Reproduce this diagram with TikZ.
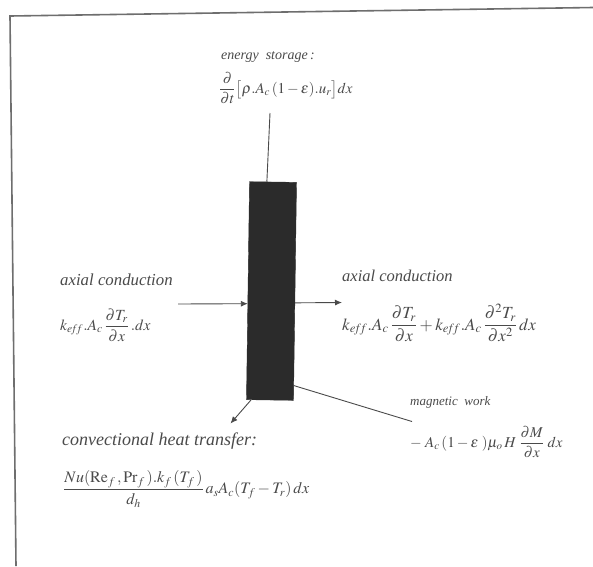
\documentclass[tikz,border=0pt]{standalone}
\usepackage{mathptmx}
\usepackage{fontspec}
\setmainfont{Liberation Serif}
\usetikzlibrary{arrows.meta,calc}
\definecolor{ink}{HTML}{4A4A4A}
\definecolor{blockfill}{HTML}{2B2B2B}
\begin{document}
\begin{tikzpicture}[x=1pt,y=-1pt,
  lbl/.style={anchor=west,inner sep=0pt,text=ink,font=\itshape},
  frm/.style={draw=ink!80,line width=1.6pt},
  conn/.style={draw=ink,line width=0.9pt},
  arr/.style={conn,-{Latex[length=7pt,width=6pt]}}]
\useasboundingbox[fill=white] (0,0) rectangle (593,566);
% frame
\draw[frm] (593,7.5) -- (10,16) -- (16,566);
% block
\node (blk) [draw=blockfill,fill=blockfill,minimum width=47pt,minimum height=218pt,inner sep=0pt,rotate=-0.8] at (271.5,291) {};
% labels
\node (esl) [lbl,font=\fontsize{14}{16}\itshape\selectfont] at (221,57) {energy\ \ storage\,:};
\node (esf) [lbl,font=\fontsize{15}{17}\selectfont] at (219,88) {$\displaystyle\frac{\partial}{\partial t}\big[\rho.A_c\,(1-\varepsilon).u_r\big]dx$};
\node (lal) [lbl,font=\fontsize{16.8}{19}\itshape\selectfont] at (60,280) {axial conduction};
\node (laf) [lbl,font=\fontsize{15.5}{18}\selectfont] at (60,325) {$\displaystyle k_{e\!f\!f}.A_c\,\frac{\partial T_r}{\partial x}\,.dx$};
\node (ral) [lbl,font=\fontsize{16.5}{19}\itshape\selectfont] at (342,276) {axial conduction};
\node (raf) [lbl,font=\fontsize{17}{19}\selectfont] at (342,323) {$\displaystyle k_{e\!f\!f}.A_c\,\frac{\partial T_r}{\partial x}+k_{e\!f\!f}.A_c\,\frac{\partial^2 T_r}{\partial x^2}\,dx$};
\node (cvl) [lbl,font=\fontsize{18}{20}\itshape\selectfont] at (62,441) {convectional heat transfer:};
\node (cvf) [lbl,font=\fontsize{16}{18}\selectfont] at (63,489) {$\displaystyle\frac{Nu(\mathrm{Re}_f\,,\mathrm{Pr}_f\,).k_f\,(T_f\,)}{d_h}\,a_sA_c(T_f-T_r)\,dx$};
\node (mwl) [lbl,font=\fontsize{13}{15}\itshape\selectfont] at (410,402) {magnetic\ \ work};
\node (mwf) [lbl,font=\fontsize{15}{17}\selectfont] at (410,442) {$\displaystyle -\;A_c\,(1-\varepsilon\;)\mu_o\,H\;\frac{\partial M}{\partial x}\;dx$};
% connector end points
\coordinate (esend) at (270,113);
\coordinate (lastart) at (178,304);
\coordinate (raend) at (342,302.5);
\coordinate (cvend) at (230.5,423.5);
\coordinate (mwend) at (412,421.5);
% connectors
\draw[conn] ($(blk.north west)!0.37!(blk.north east)$) -- (esend);
\draw[arr] (lastart) -- ($(blk.west)+(0,13)$);
\draw[arr] ($(blk.east)+(0,11.5)$) -- (raend);
\draw[arr] ($(blk.south west)!0.1!(blk.south east)$) -- (cvend);
\draw[conn] ($(blk.south east)+(0,-15)$) -- (mwend);
\end{tikzpicture}
\end{document}
